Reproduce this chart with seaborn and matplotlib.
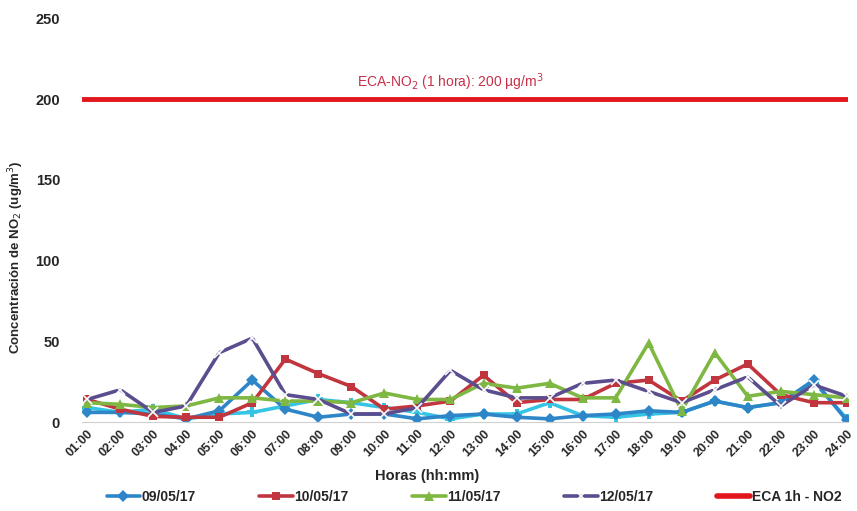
import pandas as pd
import matplotlib.pyplot as plt
import seaborn as sns

horas = ['01:00', '02:00', '03:00', '04:00', '05:00', '06:00', '07:00', '08:00',
         '09:00', '10:00', '11:00', '12:00', '13:00', '14:00', '15:00', '16:00',
         '17:00', '18:00', '19:00', '20:00', '21:00', '22:00', '23:00', '24:00']

d_0905 = [6, 6, 5, 2, 7, 26, 8, 3, 5, 5, 2, 4, 5, 3, 2, 4, 5, 7, 6, 13, 9, 12, 26, 1]
d_extra = [9, 6, 8, 2, 5, 6, 10, 14, 12, 9, 6, 2, 5, 5, 12, 4, 3, 5, 6, 13, 9, 12, 25, 2]
d_1005 = [14, 8, 3.5, 3, 3, 12, 39, 30, 22, 8, 10, 13, 29, 12, 14, 14, 24, 26, 13, 26, 36, 17, 12, 12]
d_1105 = [12, 11, 9, 10, 15, 15, 13, 13, 12, 18, 14, 14, 24, 21, 24, 15, 15, 49, 7, 43, 16, 19, 17, 15]
d_1205 = [14, 20, 6, 10, 43, 52, 17, 14, 5, 5, 9, 32, 20, 15, 15, 24, 26, 19, 12, 20, 28, 10, 23, 16]
eca_limite = 200

sns.set_style("white")
plt.rcParams['font.family'] = ['Liberation Sans', 'DejaVu Sans']

x = list(range(1, len(horas) + 1))
df = pd.DataFrame({'x': x, 'h0905': d_0905, 'extra': d_extra, 'h1005': d_1005,
                   'h1105': d_1105, 'h1205': d_1205})

fig = plt.figure(figsize=(8.57, 5.11), dpi=100)
ax = fig.add_axes([0.096, 0.174, 0.894, 0.806])

ax.axhline(eca_limite, color='#E3161B', lw=3.5, xmin=0.0, xmax=1.0)

sns.lineplot(data=df, x='x', y='extra', ax=ax, color='#35C4E4', lw=2.6,
             marker='P', markersize=7, markeredgewidth=0, legend=False)
sns.lineplot(data=df, x='x', y='h0905', ax=ax, color='#2E86C8', lw=2.6,
             marker='D', markersize=6, markeredgewidth=0, label='09/05/17')
sns.lineplot(data=df, x='x', y='h1005', ax=ax, color='#C1353F', lw=2.6,
             marker='s', markersize=6, markeredgewidth=0, label='10/05/17')
sns.lineplot(data=df, x='x', y='h1105', ax=ax, color='#7EB742', lw=2.6,
             marker='^', markersize=6.5, markeredgewidth=0, label='11/05/17')
sns.lineplot(data=df, x='x', y='h1205', ax=ax, color='#5C4E8E', lw=2.6,
             marker='x', markersize=7, markeredgewidth=1.2, label='12/05/17')
ax.plot([], [], color='#E3161B', lw=4, label='ECA 1h - NO2')

ax.text(12.0, eca_limite + 4, 'ECA-NO$_2$ (1 hora): 200 µg/m$^3$', color='#C8304A',
        fontsize=10, ha='center', va='bottom')

ax.set_xlim(0.85, 24.05)
ax.set_ylim(0, 255)
ax.set_yticks([0, 50, 100, 150, 200, 250])
ax.set_xticks(x)
ax.set_xticklabels(horas, rotation=45, ha='right', rotation_mode='anchor')
ax.tick_params(axis='y', pad=16, labelsize=10.5, length=0)
ax.tick_params(axis='x', pad=4, labelsize=9, length=0)
for lab in ax.get_xticklabels() + ax.get_yticklabels():
    lab.set_fontweight('bold')

ax.set_xlabel('Horas (hh:mm)', fontweight='bold', fontsize=10.5)
ax.xaxis.set_label_coords(0.45, -0.115)
ax.set_ylabel('Concentración de NO$_2$ (ug/m$^3$)', fontweight='bold', fontsize=9.5)
ax.yaxis.set_label_coords(-0.074, 0.40)

for s in ['top', 'right', 'left']:
    ax.spines[s].set_visible(False)
ax.spines['bottom'].set_color('#D0D0D0')
ax.spines['bottom'].set_linewidth(0.8)

handles, labels = ax.get_legend_handles_labels()
if ax.legend_:
    ax.legend_.remove()
leg = fig.legend(handles, labels, loc='center', bbox_to_anchor=(0.553, 0.027), ncol=5,
                 frameon=False, fontsize=10, columnspacing=4.6, handlelength=2.4,
                 handletextpad=0.1)
for t in leg.get_texts():
    t.set_fontweight('bold')

fig.savefig('out.png', dpi=100)
